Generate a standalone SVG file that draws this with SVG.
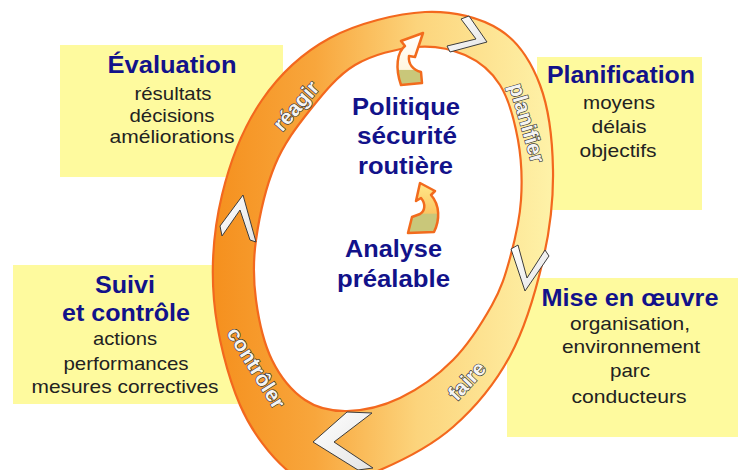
<svg xmlns="http://www.w3.org/2000/svg" width="738" height="470" viewBox="0 0 738 470">
<defs>
<linearGradient id="ringGrad" gradientUnits="userSpaceOnUse" x1="213" y1="0" x2="553" y2="0">
<stop offset="0" stop-color="#F5901E"/>
<stop offset="0.3" stop-color="#F8A63C"/>
<stop offset="0.6" stop-color="#FCD47C"/>
<stop offset="1" stop-color="#FEF2A8"/>
</linearGradient>
<linearGradient id="chevGrad" x1="0" y1="0" x2="1" y2="1">
<stop offset="0" stop-color="#FFFFFF"/>
<stop offset="1" stop-color="#E4E4E4"/>
</linearGradient>
<linearGradient id="arrowTop" gradientUnits="userSpaceOnUse" x1="0" y1="33" x2="0" y2="85">
<stop offset="0" stop-color="#FFFFFF"/>
<stop offset="0.7" stop-color="#FFF6E0"/>
<stop offset="0.72" stop-color="#C9C77A"/>
<stop offset="1" stop-color="#C9C77A"/>
</linearGradient>
<linearGradient id="arrowMid" gradientUnits="userSpaceOnUse" x1="0" y1="183" x2="0" y2="233">
<stop offset="0" stop-color="#FFE889"/>
<stop offset="0.6" stop-color="#FBC663"/>
<stop offset="0.63" stop-color="#C9C77A"/>
<stop offset="1" stop-color="#C9C77A"/>
</linearGradient>
</defs>
<style>
.box{fill:#FEFA9E;}
.title{font-family:"Liberation Sans",Arial,sans-serif;font-weight:bold;font-size:23px;fill:#12128A;text-anchor:middle;}
.sub{font-family:"Liberation Sans",Arial,sans-serif;font-size:19px;fill:#222222;text-anchor:middle;}
.center{font-family:"Liberation Sans",Arial,sans-serif;font-weight:bold;font-size:24px;fill:#12128A;text-anchor:middle;}
.ringlbl{font-family:"Liberation Sans",Arial,sans-serif;font-weight:bold;font-size:21px;fill:#F4F4F4;stroke:#333333;stroke-width:1.3;paint-order:stroke fill;text-anchor:middle;}
.ringedge{stroke:#F3681E;stroke-width:2.2;}
.chev{fill:url(#chevGrad);stroke:#3C3C3C;stroke-width:1;stroke-linejoin:miter;}
.curl{stroke:#F26B1D;stroke-width:2.5;stroke-linejoin:round;}
</style>
<rect width="738" height="470" fill="#FFFFFF"/>

<g id="evaluation">
<rect class="box" x="60" y="45" width="223" height="132"/>
<text class="title" x="172" y="73" textLength="129" lengthAdjust="spacingAndGlyphs">Évaluation</text>
<text class="sub" x="173" y="100" textLength="77" lengthAdjust="spacingAndGlyphs">résultats</text>
<text class="sub" x="172" y="122" textLength="85" lengthAdjust="spacingAndGlyphs">décisions</text>
<text class="sub" x="172" y="143" textLength="125" lengthAdjust="spacingAndGlyphs">améliorations</text>
</g>

<g id="planification">
<rect class="box" x="537" y="57" width="165" height="153"/>
<text class="title" x="621" y="83" textLength="148" lengthAdjust="spacingAndGlyphs">Planification</text>
<text class="sub" x="619" y="109" textLength="72" lengthAdjust="spacingAndGlyphs">moyens</text>
<text class="sub" x="619" y="133" textLength="55" lengthAdjust="spacingAndGlyphs">délais</text>
<text class="sub" x="618" y="157" textLength="77" lengthAdjust="spacingAndGlyphs">objectifs</text>
</g>

<g id="suivi">
<rect class="box" x="13" y="265" width="225" height="139"/>
<text class="title" x="125" y="293" textLength="60" lengthAdjust="spacingAndGlyphs">Suivi</text>
<text class="title" x="126" y="321" textLength="128" lengthAdjust="spacingAndGlyphs">et contrôle</text>
<text class="sub" x="125" y="345" textLength="64" lengthAdjust="spacingAndGlyphs">actions</text>
<text class="sub" x="126" y="370" textLength="125" lengthAdjust="spacingAndGlyphs">performances</text>
<text class="sub" x="125" y="393" textLength="187" lengthAdjust="spacingAndGlyphs">mesures correctives</text>
</g>

<g id="mise-en-oeuvre">
<rect class="box" x="507" y="278" width="231" height="159"/>
<text class="title" x="630" y="306" textLength="177" lengthAdjust="spacingAndGlyphs">Mise en œuvre</text>
<text class="sub" x="630" y="330" textLength="120" lengthAdjust="spacingAndGlyphs">organisation,</text>
<text class="sub" x="631" y="353" textLength="138" lengthAdjust="spacingAndGlyphs">environnement</text>
<text class="sub" x="630" y="377" textLength="40" lengthAdjust="spacingAndGlyphs">parc</text>
<text class="sub" x="629" y="403" textLength="115" lengthAdjust="spacingAndGlyphs">conducteurs</text>
</g>

<g id="cycle-ring">
<path class="ringedge" fill="url(#ringGrad)" d="M 425,12 C 453.3,10.7 480.8,17.8 500,30 C 519.2,42.2 531.2,61.7 540,85 C 548.8,108.3 552.5,140.8 553,170 C 553.5,199.2 550.2,229 543,260 C 535.8,291 525,328.2 510,356 C 495,383.8 474.7,408 453,427 C 431.3,446 400.5,461.2 380,470 C 359.5,478.8 345.5,482 330,482 C 314.5,482 300,480 287,470 C 272,457.5 252.2,433.3 240,405 C 227.8,376.7 217,335 214,300 C 211,265 214,228.3 222,195 C 230,161.7 244,126.2 262,100 C 280,73.8 302.8,52.7 330,38 C 357.2,23.3 397.7,13.3 425,12 Z"/>
<path class="ringedge" fill="#FFFFFF" d="M 415,47 C 433.3,45.3 450.8,48.7 465,55 C 479.2,61.3 491.2,70.8 500,85 C 508.8,99.2 514.5,120.8 518,140 C 521.5,159.2 522.3,180.3 521,200 C 519.7,219.7 514.8,240.5 510,258 C 505.2,275.5 501.5,288 492,305 C 482.5,322 468.3,344.5 453,360 C 437.7,375.5 417.7,389.5 400,398 C 382.3,406.5 362.8,410.7 347,411 C 331.2,411.3 317.5,408.5 305,400 C 292.5,391.5 280.2,376.7 272,360 C 263.8,343.3 258.7,320 256,300 C 253.3,280 252.8,262.5 256,240 C 259.2,217.5 266,186.7 275,165 C 284,143.3 296.7,126.7 310,110 C 323.3,93.3 337.5,75.5 355,65 C 372.5,54.5 396.7,48.7 415,47 Z"/>
<text class="ringlbl" transform="translate(296,106) rotate(-49)" x="0" y="7">réagir</text>
<text class="ringlbl" transform="translate(527,123) rotate(74)" x="0" y="7">planifier</text>
<text class="ringlbl" transform="translate(467,381) rotate(-47)" x="0" y="7">faire</text>
<text class="ringlbl" transform="translate(256,368) rotate(58)" x="0" y="7">contrôler</text>
</g>

<g id="politique">
<text class="center" x="406" y="115" textLength="108" lengthAdjust="spacingAndGlyphs">Politique</text>
<text class="center" x="407" y="144" textLength="100" lengthAdjust="spacingAndGlyphs">sécurité</text>
<text class="center" x="405.5" y="174" textLength="95" lengthAdjust="spacingAndGlyphs">routière</text>
</g>

<g id="analyse">
<text class="center" x="393.5" y="257" textLength="97" lengthAdjust="spacingAndGlyphs">Analyse</text>
<text class="center" x="393.5" y="287" textLength="113" lengthAdjust="spacingAndGlyphs">préalable</text>
</g>

<g id="connectors">
<polygon class="chev" points="461,19 469,16 487,42 450,52 447,46 476,39"/>
<polygon class="chev" points="511,249 518,245 527,278 545,250 549,256 525,291"/>
<polygon class="chev" points="347,412 372,413 334,442 373,468 358,470 313,442"/>
<polygon class="chev" points="220,226 243,195 256,242 250,240 240,210 222,236"/>
<path class="curl" fill="url(#arrowTop)" d="M 401,85 L 422,83 L 421,72 C 413,70 408,64 409,56 L 415,57 L 423,33 L 401,41 L 405,46 C 397,52 395,68 401,85 Z"/>
<path class="curl" fill="url(#arrowMid)" stroke-width="1.6" d="M 408,233 L 434,232 C 440,220 440,205 431,195 L 435,191 L 420,183 L 416,201 L 421,198 C 426,204 425,211 420,214 L 412,217 Z"/>
</g>
</svg>
